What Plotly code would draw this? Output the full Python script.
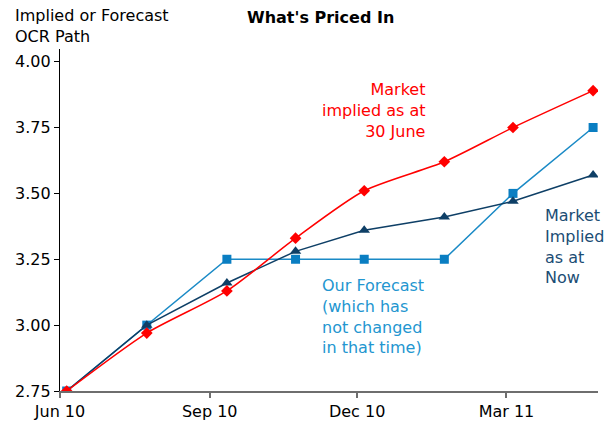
import plotly.graph_objects as go

# Data (OCR review dates)
dates = ["2010-06-10", "2010-07-29", "2010-09-16", "2010-10-28",
         "2010-12-09", "2011-01-27", "2011-03-10", "2011-04-28"]
market_30june = [2.75, 2.97, 3.13, 3.33, 3.51, 3.62, 3.75, 3.89]
our_forecast = [2.75, 3.00, 3.25, 3.25, 3.25, 3.25, 3.50, 3.75]
market_now = [2.75, 3.00, 3.16, 3.28, 3.36, 3.41, 3.47, 3.57]

tick_dates = ["2010-06-05 22:00", "2010-09-05 12:00", "2010-12-04 16:00", "2011-03-06"]
tick_labels = ["Jun 10", "Sep 10", "Dec 10", "Mar 11"]
y_ticks = [2.75, 3.00, 3.25, 3.50, 3.75, 4.00]

RED = "#FF0000"
LBLUE = "#0A7EC2"
NAVY = "#0E3F66"
FONT = "DejaVu Sans"

fig = go.Figure()
fig.add_trace(go.Scatter(
    x=dates, y=our_forecast, mode="lines+markers",
    line=dict(color="#1A8AC6", width=1.5),
    marker=dict(symbol="square", size=9, color=LBLUE),
    name="Our Forecast"))
fig.add_trace(go.Scatter(
    x=dates, y=market_now, mode="lines+markers",
    line=dict(color=NAVY, width=1.5),
    marker=dict(symbol="triangle-up", size=10, color=NAVY),
    name="Market Implied as at Now"))
fig.add_trace(go.Scatter(
    x=dates, y=market_30june, mode="lines+markers",
    line=dict(color=RED, width=1.5, shape="spline", smoothing=0.7),
    marker=dict(symbol="diamond", size=9, color=RED),
    name="Market implied as at 30 June"))

PL, PR, PT, PB = 60, 598, 49, 390.7

def px2x(px):
    return (px - PL) / (PR - PL)

def px2y(py):
    return (PB - py) / (PB - PT)

annotations = [
    dict(text="Implied or Forecast<br>OCR Path", x=px2x(13), y=px2y(26.5),
         xanchor="left", yanchor="middle", align="left",
         font=dict(size=16, color="#000000", family=FONT)),
    dict(text="<b>What's Priced In</b>", x=px2x(320), y=px2y(18),
         xanchor="center", yanchor="middle",
         font=dict(size=16, color="#000000", family=FONT)),
    dict(text="Market<br>implied as at<br>30 June", x=px2x(427), y=px2y(110),
         xanchor="right", yanchor="middle", align="right",
         font=dict(size=16, color=RED, family=FONT)),
    dict(text="Market<br>Implied<br>as at<br>Now", x=px2x(543), y=px2y(246),
         xanchor="left", yanchor="middle", align="left",
         font=dict(size=16, color="#1B4D74", family=FONT)),
    dict(text="Our Forecast<br>(which has<br>not changed<br>in that time)",
         x=px2x(320), y=px2y(316.5),
         xanchor="left", yanchor="middle", align="left",
         font=dict(size=16, color="#2396D0", family=FONT)),
]
for a in annotations:
    a.update(xref="paper", yref="paper", showarrow=False)

fig.update_layout(
    width=608, height=425,
    margin=dict(l=PL, r=608 - PR, t=PT, b=425 - PB),
    paper_bgcolor="white", plot_bgcolor="white",
    showlegend=False,
    font=dict(family=FONT, size=16, color="#000000"),
    annotations=annotations,
    xaxis=dict(
        type="date", range=["2010-06-05 22:00", "2011-05-01"],
        tickvals=tick_dates, ticktext=tick_labels,
        showgrid=False, zeroline=False, automargin=False,
        showline=True, linecolor="#6E6E6E", linewidth=1.5,
        ticks="outside", ticklen=5, tickcolor="#6E6E6E", tickwidth=1.5,
        tickfont=dict(size=16, color="#000000", family=FONT),
    ),
    yaxis=dict(
        range=[2.75, 4.048], tickvals=y_ticks,
        tickformat=".2f", automargin=False,
        showgrid=False, zeroline=False,
        showline=True, linecolor="#000000", linewidth=1.2,
        ticks="outside", ticklen=5, tickcolor="#000000",
        tickfont=dict(size=16, color="#000000", family=FONT),
    ),
)

fig.write_html("out.html")
